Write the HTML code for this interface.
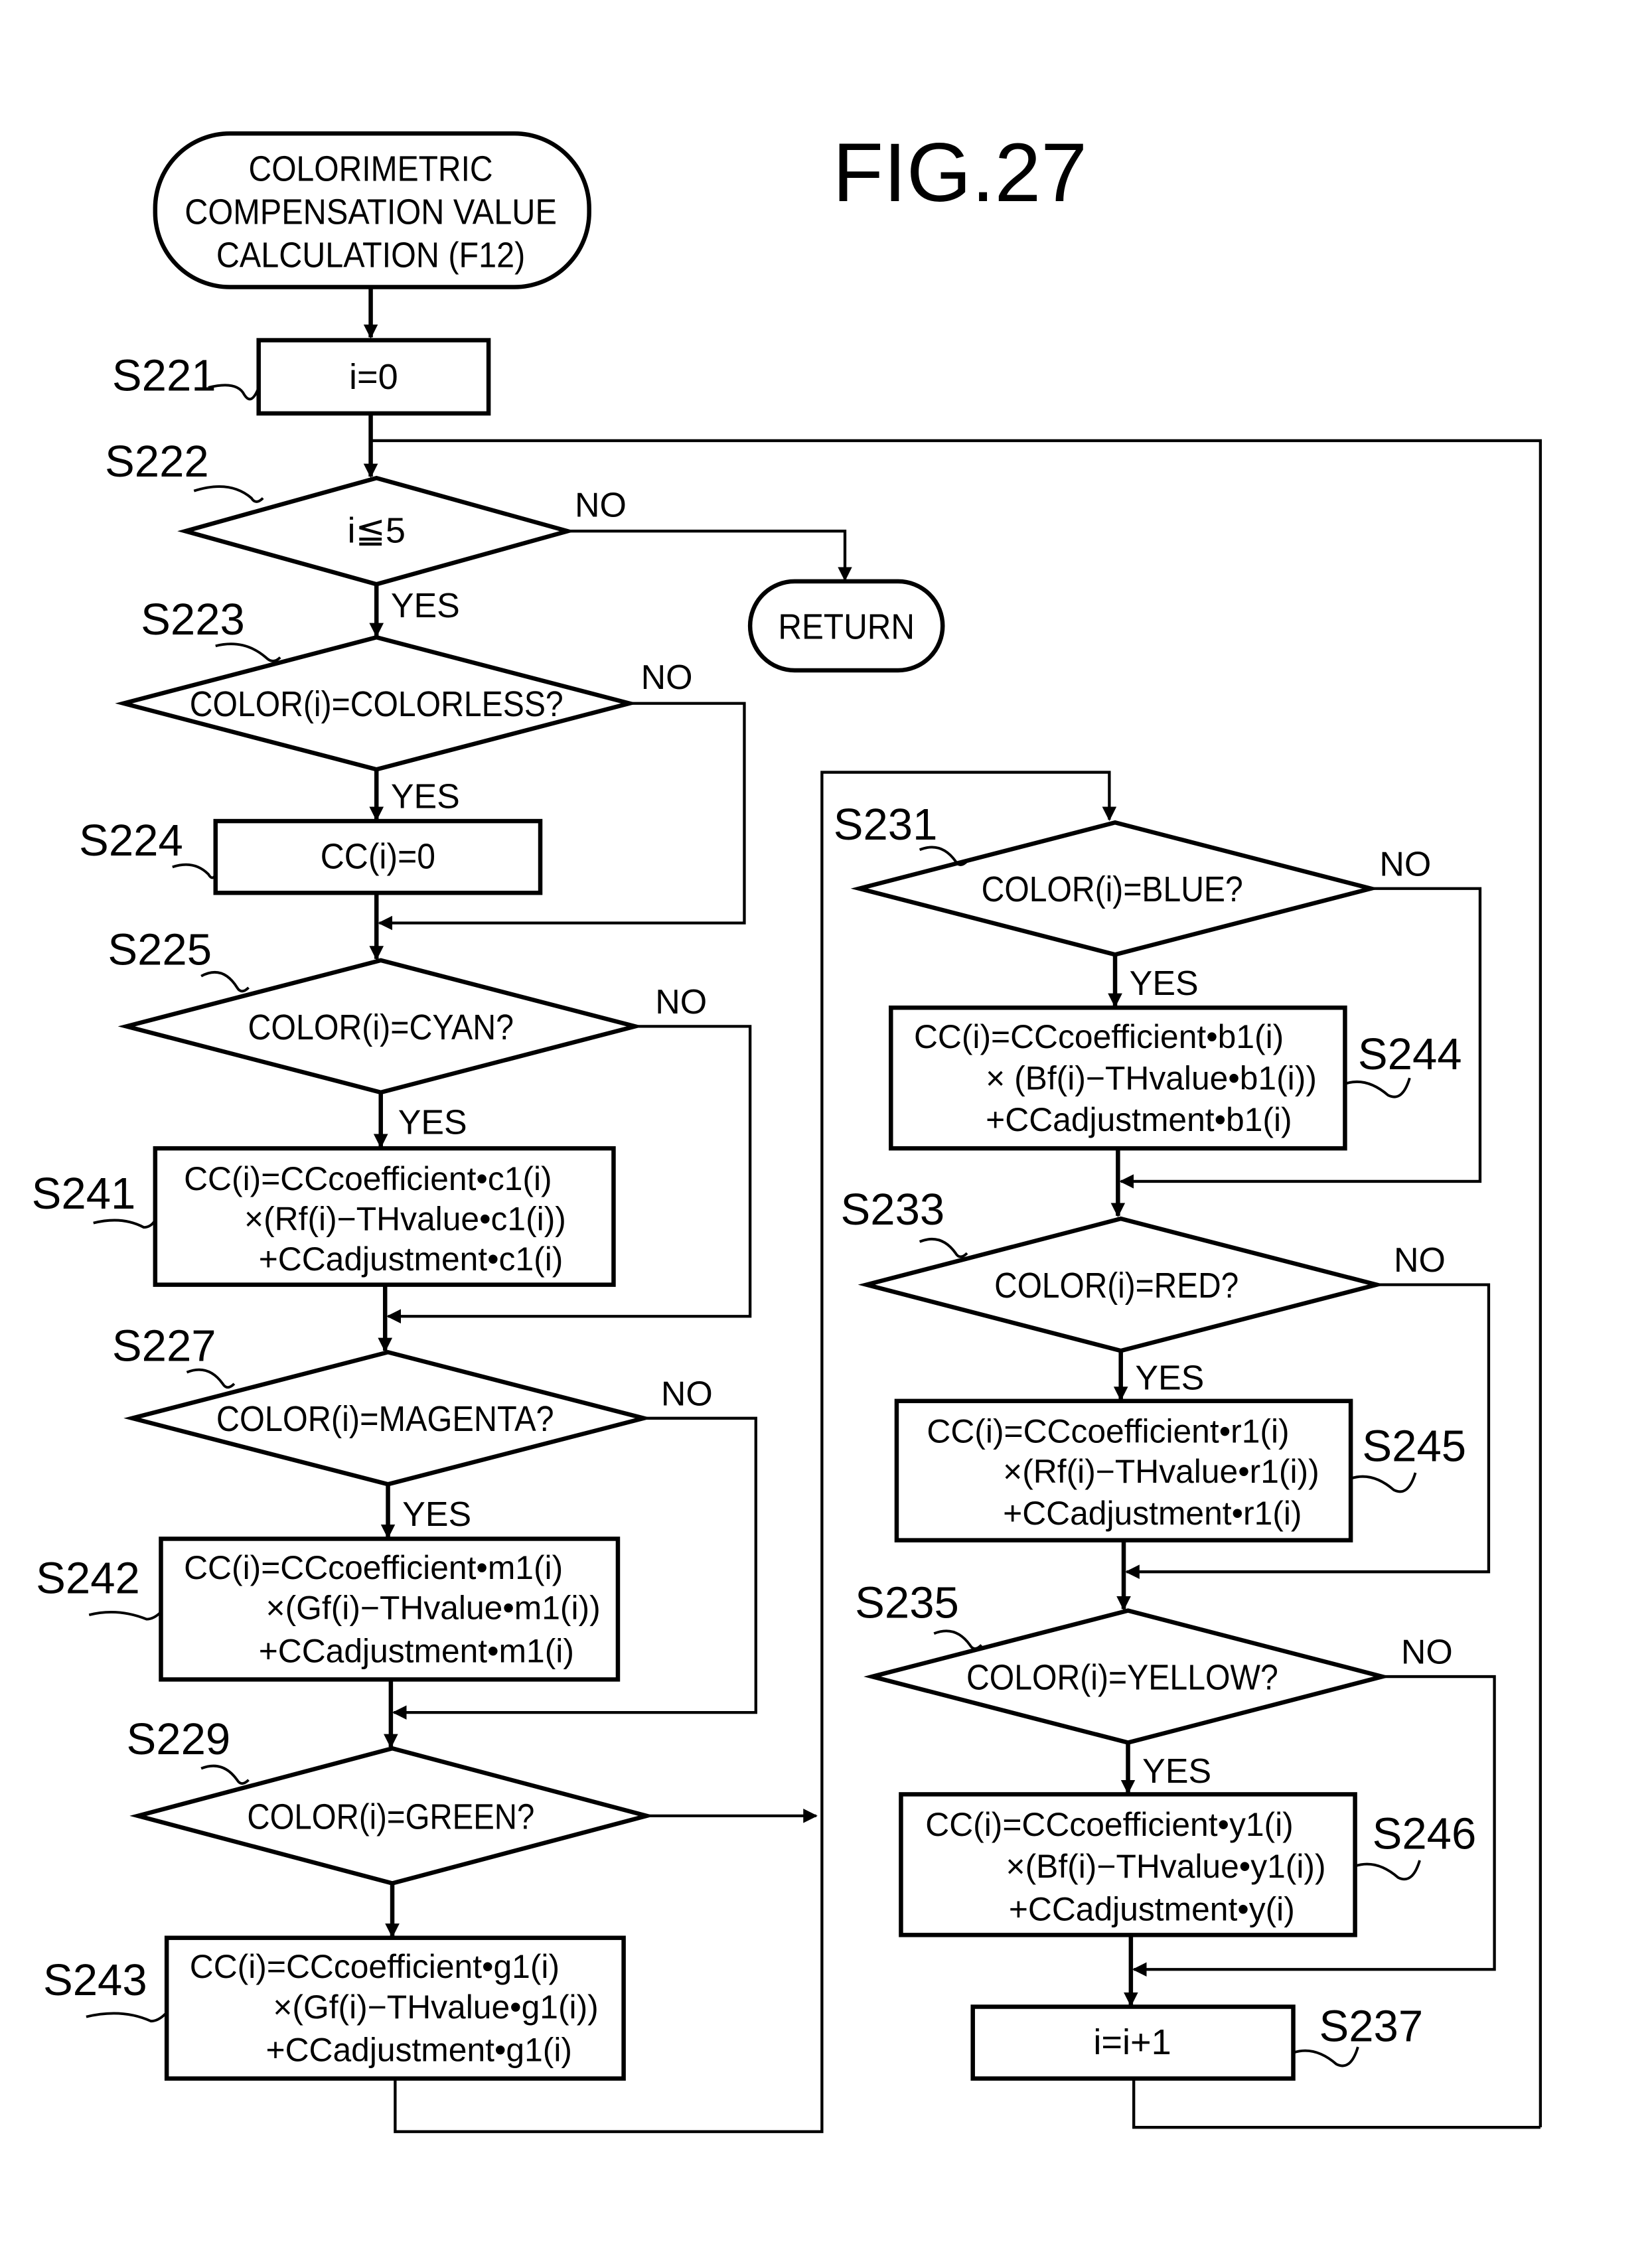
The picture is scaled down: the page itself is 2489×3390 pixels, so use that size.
<!DOCTYPE html>
<html><head><meta charset="utf-8"><style>
html,body{margin:0;padding:0;background:#fff;}
svg{display:block;}
text{font-family:"Liberation Sans",sans-serif;fill:#000;}
</style></head><body>
<svg width="2489" height="3390" viewBox="0 0 1160 1580" preserveAspectRatio="none" xmlns="http://www.w3.org/2000/svg">
<defs>
<marker id="a" markerWidth="10" markerHeight="10" refX="9" refY="5" orient="auto" markerUnits="userSpaceOnUse">
<path d="M0,0 L10,5 L0,10 z" fill="#000"/>
</marker>
</defs>
<g transform="scale(1.009,1.008)">
<g fill="none" stroke="#000" stroke-width="3">
<rect x="108" y="93" width="302" height="107" rx="52"/>
<line x1="258" y1="200" x2="258" y2="235" marker-end="url(#a)"/>
<rect x="180" y="237" width="160" height="51"/>
<line x1="258" y1="288" x2="258" y2="332" marker-end="url(#a)"/>
<polyline points="1072,1482 1072,307 258,307" stroke-width="2"/>
<polygon points="129,370 262,333 395,370 262,407"/>
<polyline points="395,370 588,370 588,404" stroke-width="2" marker-end="url(#a)"/>
<rect x="522" y="405" width="134" height="62" rx="31"/>
<line x1="262" y1="407" x2="262" y2="443" marker-end="url(#a)"/>
<polygon points="86,490 262,444 438,490 262,536"/>
<polyline points="438,490 518,490 518,643 264,643" stroke-width="2" marker-end="url(#a)"/>
<line x1="262" y1="536" x2="262" y2="571" marker-end="url(#a)"/>
<rect x="150" y="572" width="226" height="50"/>
<line x1="262" y1="622" x2="262" y2="668" marker-end="url(#a)"/>
<polygon points="88,715 265,669 442,715 265,761"/>
<polyline points="442,715 522,715 522,917 270,917" stroke-width="2" marker-end="url(#a)"/>
<line x1="265" y1="761" x2="265" y2="799" marker-end="url(#a)"/>
<rect x="108" y="800" width="319" height="95"/>
<line x1="268" y1="895" x2="268" y2="941" marker-end="url(#a)"/>
<polygon points="92,988 270,942 448,988 270,1034"/>
<polyline points="448,988 526,988 526,1193 274,1193" stroke-width="2" marker-end="url(#a)"/>
<line x1="270" y1="1034" x2="270" y2="1071" marker-end="url(#a)"/>
<rect x="112" y="1072" width="318" height="98"/>
<line x1="272" y1="1170" x2="272" y2="1217" marker-end="url(#a)"/>
<polygon points="96,1265 273,1218 450,1265 273,1312"/>
<line x1="450" y1="1265" x2="568" y2="1265" stroke-width="2" marker-end="url(#a)"/>
<line x1="273" y1="1312" x2="273" y2="1349" marker-end="url(#a)"/>
<rect x="116" y="1350" width="318" height="98"/>
<polyline points="275,1448 275,1485 572,1485 572,538 772,538 772,571" stroke-width="2" marker-end="url(#a)"/>
<polygon points="598,619 776,573 954,619 776,665"/>
<polyline points="954,619 1030,619 1030,823 780,823" stroke-width="2" marker-end="url(#a)"/>
<line x1="776" y1="665" x2="776" y2="701" marker-end="url(#a)"/>
<rect x="620" y="702" width="316" height="98"/>
<line x1="778" y1="800" x2="778" y2="847" marker-end="url(#a)"/>
<polygon points="603,895 780,849 958,895 780,941"/>
<polyline points="958,895 1036,895 1036,1095 784,1095" stroke-width="2" marker-end="url(#a)"/>
<line x1="780" y1="941" x2="780" y2="975" marker-end="url(#a)"/>
<rect x="624" y="976" width="316" height="97"/>
<line x1="782" y1="1073" x2="782" y2="1121" marker-end="url(#a)"/>
<polygon points="607,1168 785,1122 962,1168 785,1214"/>
<polyline points="962,1168 1040,1168 1040,1372 789,1372" stroke-width="2" marker-end="url(#a)"/>
<line x1="785" y1="1214" x2="785" y2="1249" marker-end="url(#a)"/>
<rect x="627" y="1250" width="316" height="98"/>
<line x1="787" y1="1348" x2="787" y2="1397" marker-end="url(#a)"/>
<rect x="677" y="1398" width="223" height="50"/>
<polyline points="789,1448 789,1482 1072,1482" stroke-width="2"/>
<g stroke-width="1.8">
<path d="M145,270 q20,-5 25,5 q5,8 10,-5"/>
<path d="M135,342 q25,-8 40,5 q3,5 8,0"/>
<path d="M150,450 q20,-5 35,8 q5,5 10,0"/>
<path d="M120,604 q15,-5 25,5 q3,5 5,0"/>
<path d="M140,680 q15,-8 25,8 q3,5 8,0"/>
<path d="M65,852 q20,-5 35,3 q5,0 8,-5"/>
<path d="M130,956 q15,-6 25,8 q3,5 8,0"/>
<path d="M62,1125 q20,-5 40,3 q5,0 10,-5"/>
<path d="M140,1232 q15,-6 25,8 q3,5 8,0"/>
<path d="M60,1405 q25,-6 45,3 q5,0 10,-5"/>
<path d="M640,592 q15,-6 25,8 q3,5 8,0"/>
<path d="M640,865 q15,-6 25,8 q3,5 8,0"/>
<path d="M650,1138 q15,-6 25,8 q3,5 8,0"/>
<path d="M936,755 q15,-5 30,8 q10,5 15,-12"/>
<path d="M940,1030 q15,-5 30,8 q10,5 15,-12"/>
<path d="M943,1300 q15,-5 30,8 q10,5 15,-12"/>
<path d="M900,1430 q15,-5 30,8 q10,5 15,-12"/>
</g>
</g>
<g font-size="25" text-anchor="middle" lengthAdjust="spacingAndGlyphs">
<text x="668" y="140" font-size="58">FIG.27</text>
<text x="258" y="126" textLength="170" lengthAdjust="spacingAndGlyphs">COLORIMETRIC</text>
<text x="258" y="156" textLength="259" lengthAdjust="spacingAndGlyphs">COMPENSATION VALUE</text>
<text x="258" y="186" textLength="215" lengthAdjust="spacingAndGlyphs">CALCULATION (F12)</text>
<text x="260" y="271">i=0</text>
<text x="262" y="378">i≦5</text>
<text x="589" y="445" textLength="95" lengthAdjust="spacingAndGlyphs">RETURN</text>
<text x="262" y="499" textLength="260" lengthAdjust="spacingAndGlyphs">COLOR(i)=COLORLESS?</text>
<text x="263" y="605" textLength="80" lengthAdjust="spacingAndGlyphs">CC(i)=0</text>
<text x="265" y="724" textLength="185" lengthAdjust="spacingAndGlyphs">COLOR(i)=CYAN?</text>
<text x="268" y="997" textLength="235" lengthAdjust="spacingAndGlyphs">COLOR(i)=MAGENTA?</text>
<text x="272" y="1274" textLength="200" lengthAdjust="spacingAndGlyphs">COLOR(i)=GREEN?</text>
<text x="774" y="628" textLength="182" lengthAdjust="spacingAndGlyphs">COLOR(i)=BLUE?</text>
<text x="777" y="904" textLength="170" lengthAdjust="spacingAndGlyphs">COLOR(i)=RED?</text>
<text x="781" y="1177" textLength="217" lengthAdjust="spacingAndGlyphs">COLOR(i)=YELLOW?</text>
<text x="788" y="1431">i=i+1</text>
</g>
<g font-size="24">
<text x="400" y="360">NO</text>
<text x="272" y="430">YES</text>
<text x="446" y="480">NO</text>
<text x="272" y="563">YES</text>
<text x="456" y="706">NO</text>
<text x="277" y="790">YES</text>
<text x="460" y="979">NO</text>
<text x="280" y="1063">YES</text>
<text x="960" y="610">NO</text>
<text x="786" y="693">YES</text>
<text x="970" y="886">NO</text>
<text x="790" y="968">YES</text>
<text x="975" y="1159">NO</text>
<text x="795" y="1242">YES</text>
</g>
<g font-size="23">
<text x="128" y="829">CC(i)=CCcoefficient•c1(i)</text>
<text x="170" y="857">×(Rf(i)−THvalue•c1(i))</text>
<text x="180" y="885">+CCadjustment•c1(i)</text>
<text x="128" y="1100">CC(i)=CCcoefficient•m1(i)</text>
<text x="185" y="1128">×(Gf(i)−THvalue•m1(i))</text>
<text x="180" y="1158">+CCadjustment•m1(i)</text>
<text x="132" y="1378">CC(i)=CCcoefficient•g1(i)</text>
<text x="190" y="1406">×(Gf(i)−THvalue•g1(i))</text>
<text x="185" y="1436">+CCadjustment•g1(i)</text>
<text x="636" y="730">CC(i)=CCcoefficient•b1(i)</text>
<text x="686" y="759">× (Bf(i)−THvalue•b1(i))</text>
<text x="686" y="788">+CCadjustment•b1(i)</text>
<text x="645" y="1005">CC(i)=CCcoefficient•r1(i)</text>
<text x="698" y="1033">×(Rf(i)−THvalue•r1(i))</text>
<text x="698" y="1062">+CCadjustment•r1(i)</text>
<text x="644" y="1279">CC(i)=CCcoefficient•y1(i)</text>
<text x="700" y="1308">×(Bf(i)−THvalue•y1(i))</text>
<text x="702" y="1338">+CCadjustment•y(i)</text>
</g>
<g font-size="31">
<text x="78" y="272">S221</text>
<text x="73" y="332">S222</text>
<text x="98" y="442">S223</text>
<text x="55" y="596">S224</text>
<text x="75" y="672">S225</text>
<text x="22" y="842">S241</text>
<text x="78" y="948">S227</text>
<text x="25" y="1110">S242</text>
<text x="88" y="1222">S229</text>
<text x="30" y="1390">S243</text>
<text x="580" y="585">S231</text>
<text x="585" y="853">S233</text>
<text x="595" y="1127">S235</text>
<text x="945" y="745">S244</text>
<text x="948" y="1018">S245</text>
<text x="955" y="1288">S246</text>
<text x="918" y="1422">S237</text>
</g>
</g>
</svg>
</body></html>
